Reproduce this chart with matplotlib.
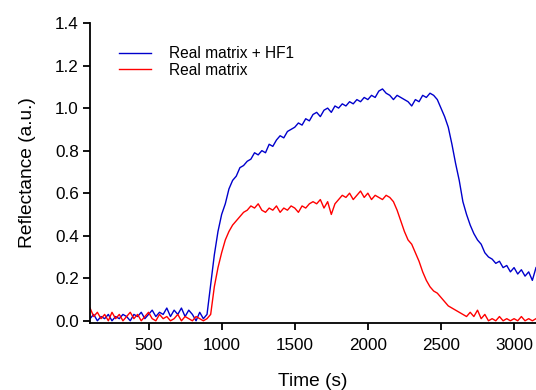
"""
Reflectance vs time for the real matrix with and without HF1.
Saves out.png (536x390 px).
"""

import numpy as np
import matplotlib
matplotlib.use("Agg")
import matplotlib.pyplot as plt

plt.rcParams["font.family"] = ["Liberation Sans", "DejaVu Sans"]

# --- Data (25 s steps from 100 s to 3150 s) ---
time_s = np.arange(100, 3151, 25)

hf1 = [
    0.01, 0.03, 0.00, 0.02, 0.01, 0.03, 0.00, 0.02, 0.01, 0.03,
    0.02, 0.00, 0.03, 0.02, 0.04, 0.01, 0.03, 0.05, 0.02, 0.04,
    0.03, 0.06, 0.02, 0.05, 0.03, 0.06, 0.02, 0.05, 0.03, 0.00,
    0.04, 0.01, 0.03,
    0.17, 0.31, 0.42, 0.50, 0.55, 0.62, 0.66, 0.68, 0.72, 0.73,
    0.75, 0.76, 0.79, 0.78, 0.80, 0.79, 0.83, 0.82, 0.85, 0.87,
    0.86, 0.89, 0.90, 0.91, 0.93, 0.92, 0.95, 0.94, 0.97, 0.98,
    0.96, 0.99, 1.00, 0.98, 1.01, 1.00, 1.02, 1.01, 1.03, 1.02,
    1.04, 1.03, 1.05, 1.04, 1.06, 1.05, 1.08, 1.09, 1.07, 1.06,
    1.04, 1.06, 1.05, 1.04, 1.03, 1.01, 1.04, 1.03, 1.06, 1.05,
    1.07, 1.06, 1.04, 1.00, 0.96, 0.91, 0.83, 0.74, 0.66, 0.56,
    0.50, 0.45, 0.41, 0.38, 0.36, 0.32, 0.30, 0.29, 0.27, 0.28,
    0.25, 0.26, 0.23, 0.25, 0.22, 0.24, 0.21, 0.23, 0.19, 0.25,
]

matrix = [
    0.06, 0.02, 0.04, 0.01, 0.03, 0.00, 0.04, 0.01, 0.03, 0.00,
    0.02, 0.04, 0.01, 0.03, 0.00, 0.02, 0.04, 0.01, 0.00, 0.03,
    0.01, 0.02, 0.00, 0.01, 0.03, 0.00, 0.02, 0.01, 0.00, 0.02,
    0.01, 0.00, 0.01,
    0.03, 0.16, 0.25, 0.32, 0.38, 0.42, 0.45, 0.47, 0.49, 0.51,
    0.52, 0.54, 0.53, 0.55, 0.52, 0.51, 0.53, 0.52, 0.54, 0.51,
    0.53, 0.52, 0.54, 0.53, 0.51, 0.54, 0.53, 0.55, 0.56, 0.55,
    0.57, 0.53, 0.56, 0.50, 0.55, 0.57, 0.59, 0.58, 0.60, 0.57,
    0.59, 0.61, 0.58, 0.60, 0.57, 0.59, 0.58, 0.57, 0.59, 0.58,
    0.56, 0.52, 0.47, 0.42, 0.38, 0.36, 0.32, 0.28, 0.23, 0.19,
    0.16, 0.14, 0.13, 0.11, 0.09, 0.07, 0.06, 0.05, 0.04, 0.03,
    0.02, 0.04, 0.02, 0.05, 0.01, 0.03, 0.00, 0.01, 0.00, 0.02,
    0.00, 0.01, 0.00, 0.01, 0.00, 0.02, 0.00, 0.01, 0.00, 0.01,
]

x_ticks = [500, 1000, 1500, 2000, 2500, 3000]
y_ticks = [0.0, 0.2, 0.4, 0.6, 0.8, 1.0, 1.2, 1.4]


def main() -> None:
    fig = plt.figure(figsize=(5.36, 3.90), dpi=100)
    ax = fig.add_axes([0.168, 0.172, 0.832, 0.769])

    ax.plot(time_s, hf1, color="#0000CC", linewidth=1.0, label="Real matrix + HF1")
    ax.plot(time_s, matrix, color="#FF0000", linewidth=1.0, label="Real matrix")

    ax.set_xlim(100, 3150)
    ax.set_ylim(-0.01, 1.4)
    ax.set_xticks(x_ticks)
    ax.set_yticks(y_ticks)
    ax.set_yticklabels([f"{v:.1f}" for v in y_ticks])

    for side in ("top", "right"):
        ax.spines[side].set_visible(False)
    for side in ("left", "bottom"):
        ax.spines[side].set_linewidth(1.3)

    ax.tick_params(axis="both", direction="out", length=5, width=1.3, labelsize=12.3)
    ax.tick_params(axis="x", pad=6)
    ax.tick_params(axis="y", pad=3)

    ax.set_xlabel("Time (s)", fontsize=13.8, labelpad=14)
    ax.set_ylabel("Reflectance (a.u.)", fontsize=13.8, labelpad=14)

    ax.legend(
        loc="upper left",
        bbox_to_anchor=(0.034, 0.97),
        frameon=False,
        fontsize=11.2,
        handlelength=2.05,
        handletextpad=1.15,
        labelspacing=0.1,
    )

    fig.savefig("out.png", dpi=100)


if __name__ == "__main__":
    main()
